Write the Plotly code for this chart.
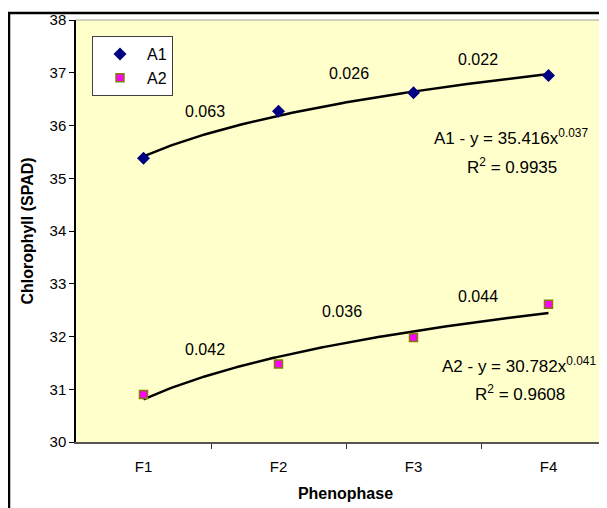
import numpy as np
import plotly.graph_objects as go

categories = ["F1", "F2", "F3", "F4"]
a1_values = [35.38, 36.27, 36.62, 36.95]
a2_values = [30.90, 31.48, 31.98, 32.61]

a1_rates = ["0.063", "0.026", "0.022"]
a2_rates = ["0.042", "0.036", "0.044"]
a1_eq = ["A1 - y = 35.416x<sup>0.037</sup>", "R<sup>2</sup> = 0.9935"]
a2_eq = ["A2 - y = 30.782x<sup>0.041</sup>", "R<sup>2</sup> = 0.9608"]

FONT = "Liberation Sans, Arial, sans-serif"
x_pos = np.arange(len(categories))


def power_fit(vals):
    xs = x_pos + 1.0
    b, ln_a = np.polyfit(np.log(xs), np.log(np.array(vals)), 1)
    xd = np.linspace(xs[0], xs[-1], 200)
    return xd - 1.0, np.exp(ln_a) * xd ** b


fig = go.Figure()

for vals in (a1_values, a2_values):
    tx, ty = power_fit(vals)
    fig.add_trace(go.Scatter(x=tx, y=ty, mode="lines", showlegend=False,
                             line=dict(color="black", width=2.5), hoverinfo="skip"))

fig.add_trace(go.Scatter(x=x_pos, y=a1_values, mode="markers", name="A1",
                         marker=dict(symbol="diamond", size=10, color="#000080",
                                     line=dict(color="#000080", width=0))))
fig.add_trace(go.Scatter(x=x_pos, y=a2_values, mode="markers", name="A2",
                         marker=dict(symbol="square", size=8, color="#FF00FF",
                                     line=dict(color="#808000", width=1.5))))

ann = []
a1_rate_pos = [(0.456, 36.26), (1.522, 36.98), (2.478, 37.26)]
a2_rate_pos = [(0.456, 31.76), (1.470, 32.48), (2.478, 32.75)]
for txt, (x, y) in zip(a1_rates, a1_rate_pos):
    ann.append(dict(x=x, y=y, text=txt, font=dict(family=FONT, size=16, color="black")))
for txt, (x, y) in zip(a2_rates, a2_rate_pos):
    ann.append(dict(x=x, y=y, text=txt, font=dict(family=FONT, size=16, color="black")))
eq_font = dict(family=FONT, size=17, color="black")
ann.append(dict(x=2.722, y=35.78, text=a1_eq[0], font=eq_font))
ann.append(dict(x=2.730, y=35.23, text=a1_eq[1], font=eq_font))
ann.append(dict(x=2.781, y=31.46, text=a2_eq[0], font=eq_font))
ann.append(dict(x=2.789, y=30.93, text=a2_eq[1], font=eq_font))
for a in ann:
    a.update(xref="x", yref="y", showarrow=False)

# page is drawn with an 8px body offset; layout numbers below are figure pixels
OFF = 8
W, H = 607, 508
L, T = 76 - OFF, 20 - OFF
B = H - (442 - OFF)
R = 0
pw, ph = W - L - R, H - T - B


def px(fig_x):
    return (fig_x - L) / pw


def py(fig_y):
    return (H - B - fig_y) / ph


border = dict(color="black", width=2.5)
shapes = [
    dict(type="line", xref="paper", yref="paper", x0=0, x1=1.02, y0=1, y1=1,
         line=dict(color="#A0A0A0", width=1)),
    dict(type="line", xref="paper", yref="paper", x0=px(0), x1=px(W + 20),
         y0=py(5), y1=py(5), line=border, layer="above"),
    dict(type="line", xref="paper", yref="paper", x0=px(1), x1=px(1),
         y0=py(4), y1=py(H + 20), line=border, layer="above"),
]

fig.update_layout(
    width=W, height=H,
    margin=dict(l=L, r=R, t=T, b=B, pad=0),
    paper_bgcolor="white",
    plot_bgcolor="#FFFFCC",
    font=dict(family=FONT, size=15, color="black"),
    annotations=ann,
    shapes=shapes,
    showlegend=True,
    legend=dict(x=px(92 - OFF), y=py(36 - OFF), xanchor="left", yanchor="top",
                bgcolor="white", bordercolor="#404040", borderwidth=1,
                font=dict(family=FONT, size=16), itemwidth=44,
                tracegroupgap=0),
    xaxis=dict(
        range=[-0.5, -0.5 + pw / 135.0],
        tickmode="array", tickvals=list(x_pos), ticktext=categories,
        ticks="", showgrid=False, zeroline=False,
        showline=True, linecolor="#555555", linewidth=1.5,
        tickfont=dict(family=FONT, size=15),
        ticklabelstandoff=10,
        minor=dict(tickmode="array", tickvals=[0.5, 1.5, 2.5],
                   ticks="outside", ticklen=5, tickcolor="#333333", tickwidth=1),
        title=dict(text="<b>Phenophase</b>", font=dict(family=FONT, size=16), standoff=14),
    ),
    yaxis=dict(
        range=[30, 38], tickmode="linear", tick0=30, dtick=1,
        ticks="outside", ticklen=5, tickcolor="black",
        showgrid=False, zeroline=False,
        showline=True, linecolor="black", linewidth=1.5,
        tickfont=dict(family=FONT, size=15),
        title=dict(text="<b>Chlorophyll (SPAD)</b>", font=dict(family=FONT, size=16), standoff=12),
    ),
)

fig.write_html("out.html")
